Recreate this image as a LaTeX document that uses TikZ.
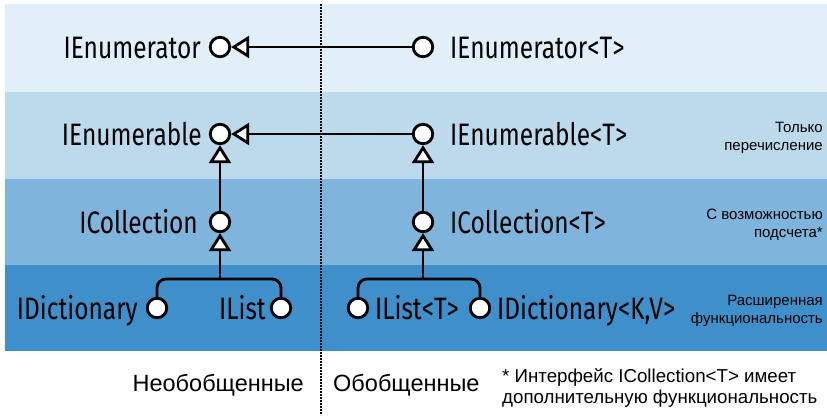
\documentclass[tikz,border=0pt]{standalone}
\usepackage{fontspec}
\setmainfont{Liberation Sans}
\newfontfamily\lblfont{Fira Sans}[FakeStretch=0.79]
\usepackage{tikz}
\usetikzlibrary{positioning,arrows.meta}
\definecolor{bandA}{HTML}{E1EFF8}
\definecolor{bandB}{HTML}{BCDAEC}
\definecolor{bandC}{HTML}{7FB5DC}
\definecolor{bandD}{HTML}{3F8FCB}
\tikzset{
	port/.style={circle, draw, fill=white, line width=2.8pt, minimum size=19.5pt, inner sep=0pt},
	iface/.style={font=\lblfont\fontsize{31}{35}\selectfont, inner sep=0pt},
	note/.style={font=\fontsize{15}{18}\selectfont, align=right, inner sep=0pt},
	impl/.style={line width=2.8pt, -{Triangle[open, fill=white, length=18pt 0, width=22pt 0]}},
	link/.style={line width=2.8pt, rounded corners=9pt}
}
\begin{document}
\begin{tikzpicture}[x=1pt, y=-1pt]
				\useasboundingbox (0,0) rectangle (827,415);
				%%%bands
				\fill[bandA] (5,4) rectangle (827,92);
				\fill[bandB] (5,92) rectangle (827,179);
				\fill[bandC] (5,179) rectangle (827,265);
				\fill[bandD] (5,265) rectangle (827,351);
				\draw[line width=2pt, densely dotted] (321,4) -- (321,415);
				%%%nodes
				%non generic
				\node[port] at (220,47) (cEnumr){};
				\node[port] at (220,134) (cEnum){};
				\node[port] at (220,222) (cColl){};
				\node[port] at (157,308) (cDict){};
				\node[port] at (281,308) (cList){};
				\coordinate (jNG) at (220,279);
				\node[iface, anchor=base east] at (201,58) (tEnumr){IEnumerator};
				\node[iface, anchor=base east] at (202,145) (tEnum){IEnumerable};
				\node[iface, anchor=base east] at (198,233) (tColl){ICollection};
				\node[iface, anchor=base east] at (138,319) (tDict){IDictionary};
				\node[iface, anchor=base east] at (266,319) (tList){IList};
				%generic
				\node[port] at (423,47) (cEnumrT){};
				\node[port] at (423,134) (cEnumT){};
				\node[port] at (423,222) (cCollT){};
				\node[port] at (358,308) (cListT){};
				\node[port] at (480,308) (cDictT){};
				\coordinate (jG) at (423,279);
				\node[iface, anchor=base west] at (450,58) (tEnumrT){IEnumerator<T>};
				\node[iface, anchor=base west] at (450,145) (tEnumT){IEnumerable<T>};
				\node[iface, anchor=base west] at (450,233) (tCollT){ICollection<T>};
				\node[iface, anchor=base west] at (375,319) (tListT){IList<T>};
				\node[iface, anchor=base west] at (497,319) (tDictT){IDictionary<K,V>};
				%notes
				\node[note, anchor=east] at (823,138) (nEnum){Только\\перечисление};
				\node[note, anchor=east] at (823,225) (nColl){С возможностью\\подсчета*};
				\node[note, anchor=east] at (823,311) (nExt){Расширенная\\функциональность};
				\node[font=\fontsize{23.5}{27}\selectfont, anchor=east, inner sep=0pt] at (304,385) (nNG){Необобщенные};
				\node[font=\fontsize{23.5}{27}\selectfont, anchor=west, inner sep=0pt] at (333,385) (nG){Обобщенные};
				\node[font=\fontsize{18.7}{21}\selectfont, align=left, anchor=west, inner sep=0pt] at (502,388) (nFoot){* Интерфейс ICollection<T> имеет\\дополнительную функциональность};
				%%%links
				%across
				\draw[impl] (cEnumrT) -- (cEnumr);
				\draw[impl] (cEnumT) -- (cEnum);
				%non generic
				\draw[impl] (cColl) -- (cEnum);
				\draw[link] (cDict) |- (jNG) -| (cList);
				\draw[impl] (jNG) -- (cColl);
				%generic
				\draw[impl] (cCollT) -- (cEnumT);
				\draw[link] (cListT) |- (jG) -| (cDictT);
				\draw[impl] (jG) -- (cCollT);
\end{tikzpicture}
\end{document}
